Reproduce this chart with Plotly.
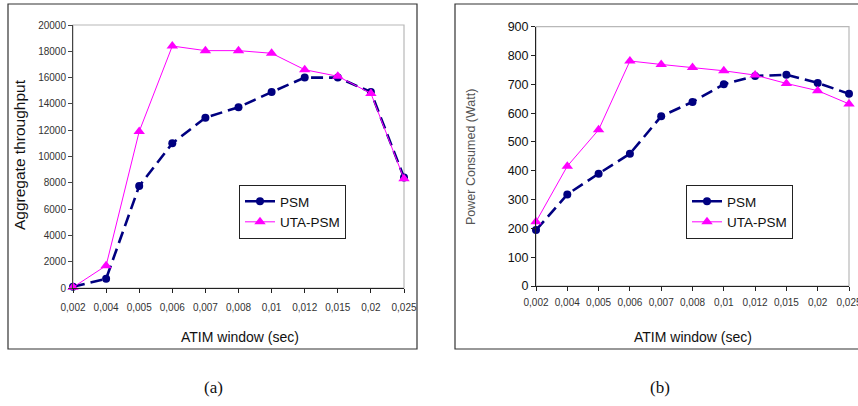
import plotly.graph_objects as go

W, H = 858, 406

categories = ["0,002", "0,004", "0,005", "0,006", "0,007", "0,008",
              "0,01", "0,012", "0,015", "0,02", "0,025"]

# Panel (a): Aggregate throughput
psm_thr = [100, 700, 7750, 11000, 12950, 13750, 14900, 16000, 16000, 14900, 8400]
uta_thr = [50, 1700, 11900, 18400, 18050, 18050, 17850, 16600, 16100, 14800, 8300]

# Panel (b): Power consumed (Watt)
psm_pow = [194, 318, 390, 459, 589, 639, 700, 729, 733, 705, 667]
uta_pow = [223, 416, 542, 781, 769, 758, 747, 732, 703, 678, 632]

y_ticks_a = [0, 2000, 4000, 6000, 8000, 10000, 12000, 14000, 16000, 18000, 20000]
y_ticks_b = [0, 100, 200, 300, 400, 500, 600, 700, 800, 900]

FONT = "Liberation Sans"
NAVY = "#000080"
MAG = "#FF00FF"


def px(x):
    return x / W


def py(y):
    return 1 - y / H


fig = go.Figure()


def add_pair(xa, ya, psm, uta, legend):
    fig.add_trace(go.Scatter(
        x=categories, y=psm, name="PSM", mode="lines+markers",
        line=dict(color=NAVY, width=2.6, dash="12px,6px"),
        marker=dict(symbol="circle", size=8, color=NAVY),
        xaxis=xa, yaxis=ya, legend=legend, cliponaxis=False))
    fig.add_trace(go.Scatter(
        x=categories, y=uta, name="UTA-PSM", mode="lines+markers",
        line=dict(color=MAG, width=1),
        marker=dict(symbol="triangle-up", size=10, color=MAG),
        xaxis=xa, yaxis=ya, legend=legend, cliponaxis=False))


add_pair("x", "y", psm_thr, uta_thr, "legend")
add_pair("x2", "y2", psm_pow, uta_pow, "legend2")

xcommon = dict(type="category", categoryorder="array", categoryarray=categories,
               range=[0, 10], showgrid=False, zeroline=False, showline=True,
               linecolor="#222", linewidth=1, ticks="outside", ticklen=4,
               tickcolor="#222", tickfont=dict(family=FONT, size=10, color="#333"),
               automargin=False, fixedrange=True)

fig.update_layout(
    template="none",
    width=W, height=H,
    margin=dict(l=0, r=0, t=0, b=0, pad=0, autoexpand=False),
    paper_bgcolor="white", plot_bgcolor="white",
    showlegend=True,
    xaxis=dict(domain=[px(73), px(404)], anchor="y", ticklabelstandoff=6, **xcommon),
    yaxis=dict(domain=[py(288), py(25)], anchor="x", range=[0, 20000],
               tickvals=y_ticks_a, ticktext=[str(v) for v in y_ticks_a],
               showgrid=False, zeroline=False,
               showline=True, linecolor="#444", linewidth=1,
               ticks="outside", ticklen=4, tickcolor="#444", automargin=False,
               tickfont=dict(family=FONT, size=10, color="#333")),
    xaxis2=dict(domain=[px(536), px(849)], anchor="y2", ticklabelstandoff=3, **xcommon),
    yaxis2=dict(domain=[py(286), py(26.7)], anchor="x2", range=[0, 900],
                tickvals=y_ticks_b, ticktext=[str(v) for v in y_ticks_b],
                showgrid=False, zeroline=False,
                showline=True, linecolor="#222", linewidth=1,
                ticks="outside", ticklen=4, tickcolor="#222", automargin=False,
                tickfont=dict(family=FONT, size=12.5, color="#111")),
    legend=dict(x=px(239), y=py(185), xanchor="left", yanchor="top",
                bordercolor="#222", borderwidth=1, bgcolor="white",
                font=dict(family=FONT, size=13.5, color="#111"),
                itemwidth=30, tracegroupgap=0),
    legend2=dict(x=px(686), y=py(185), xanchor="left", yanchor="top",
                 bordercolor="#222", borderwidth=1, bgcolor="white",
                 font=dict(family=FONT, size=13.5, color="#111"),
                 itemwidth=30, tracegroupgap=0),
)

shapes = []
# plot-area gray frames
for xr, yr in (("x domain", "y domain"), ("x2 domain", "y2 domain")):
    shapes.append(dict(type="rect", xref=xr, yref=yr, x0=0, x1=1, y0=0, y1=1,
                       line=dict(color="#b8b8b8", width=1.2), layer="below"))
# outer chart boxes
shapes.append(dict(type="rect", xref="paper", yref="paper",
                   x0=px(8), x1=px(417), y0=py(349), y1=py(4),
                   line=dict(color="#333", width=1.2)))
shapes.append(dict(type="rect", xref="paper", yref="paper",
                   x0=px(455), x1=px(870), y0=py(349), y1=py(4),
                   line=dict(color="#333", width=1.2)))
fig.update_layout(shapes=shapes)

ann = [
    dict(text="Aggregate throughput", x=px(20), y=py(155), textangle=-90,
         font=dict(family=FONT, size=15.5, color="#111")),
    dict(text="ATIM window (sec)", x=px(240), y=py(337),
         font=dict(family=FONT, size=14, color="#111")),
    dict(text="Power Consumed (Watt)", x=px(471), y=py(157), textangle=-90,
         font=dict(family=FONT, size=12.5, color="#555")),
    dict(text="ATIM window (sec)", x=px(693), y=py(337),
         font=dict(family=FONT, size=14, color="#111")),
    dict(text="(a)", x=px(213), y=py(387),
         font=dict(family="Liberation Serif", size=17, color="#111")),
    dict(text="(b)", x=px(660), y=py(387),
         font=dict(family="Liberation Serif", size=17, color="#111")),
]
for a in ann:
    a.update(xref="paper", yref="paper", showarrow=False,
             xanchor="center", yanchor="middle")
fig.update_layout(annotations=ann)

fig.write_html(
    "out.html",
    config={"displayModeBar": False},
    post_script="document.body.style.margin='0';document.body.style.overflow='hidden';",
)
